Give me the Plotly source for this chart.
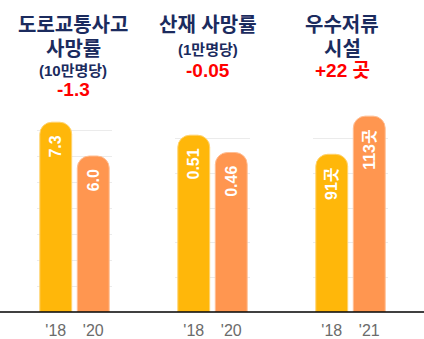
import plotly.graph_objects as go

# Three indicator panels: earlier vs. later year
years_road = ["'18", "'20"]
years_work = ["'18", "'20"]
years_tank = ["'18", "'21"]

road_deaths = [7.3, 6.0]        # per 100k people
work_deaths = [0.51, 0.46]      # per 10k people
tank_count = [91, 113]          # facilities

road_labels = [f"{v:.1f}" for v in road_deaths]
work_labels = [f"{v:.2f}" for v in work_deaths]
tank_labels = [f"{v}곳" for v in tank_count]

titles = [
    ["도로교통사고", "사망률", "(10만명당)", "-1.3"],
    ["산재 사망률", "(1만명당)", "-0.05"],
    ["우수저류", "시설", "+22 곳"],
]

W, H = 424, 339
BOTTOM = 27
PLOT_H = H - BOTTOM

YELLOW = "#FFB70A"
ORANGE = "#FF9650"
NAVY = "#1B2B5E"
RED = "#FF0000"
GRID = "#EBEBEB"
FONT = "Liberation Sans, Noto Sans CJK KR, sans-serif"

panels = [
    (years_road, road_deaths, road_labels, [0, 8], 1, (37, 112)),
    (years_work, work_deaths, work_labels, [0, 0.6], 0.1, (175, 250)),
    (years_tank, tank_count, tank_labels, [0, 120], 20, (313, 388)),
]

# trailing spaces keep the value labels clear of the rounded bar tops
PAD = "\u00a0\u00a0"

fig = go.Figure()
for i, (cats, vals, labels, yr, step, (xa, xb)) in enumerate(panels, start=1):
    sfx = "" if i == 1 else str(i)
    fig.add_trace(go.Bar(
        x=cats, y=vals, text=[t + PAD for t in labels],
        xaxis="x" + sfx, yaxis="y" + sfx,
        marker=dict(color=[YELLOW, ORANGE], cornerradius=12,
                    line=dict(color=["#FFD36E", "#FFBE93"], width=1)),
        textposition="inside", insidetextanchor="end", textangle=-90,
        textfont=dict(color="white", size=16, family=FONT, weight="bold"),
        hoverinfo="skip", showlegend=False,
    ))
    fig.update_layout(**{
        "xaxis" + sfx: dict(domain=[xa / W, xb / W], anchor="y" + sfx,
                            showline=False, ticks="", ticklabelstandoff=7,
                            tickfont=dict(size=16, color="#6B6B6B", family=FONT)),
        "yaxis" + sfx: dict(domain=[0, 208 / PLOT_H], anchor="x" + sfx,
                            range=yr, dtick=step, showticklabels=False,
                            showgrid=True, gridcolor=GRID, gridwidth=1,
                            zeroline=False, showline=False),
    })


def py(px):
    return 1 - px / PLOT_H


# Panel headings
title_pos = [
    (73, [25, 49, 70, 90], [20, 20, 15, 19]),
    (208, [25, 49, 70], [20, 15, 19]),
    (342, [25, 49, 70], [20, 20, 19]),
]
for lines, (cx, ys, sizes) in zip(titles, title_pos):
    for j, (txt, y, s) in enumerate(zip(lines, ys, sizes)):
        fig.add_annotation(
            x=cx / W, y=py(y), xref="paper", yref="paper",
            text=txt, showarrow=False, xanchor="center", yanchor="middle",
            font=dict(size=s, color=RED if j == len(lines) - 1 else NAVY,
                      family=FONT, weight="bold"),
        )

# Baseline across the full width
fig.add_shape(type="line", xref="paper", yref="paper",
              x0=0, x1=1, y0=0, y1=0, line=dict(color="black", width=1.5))

fig.update_layout(
    width=W, height=H,
    margin=dict(l=0, r=0, t=0, b=BOTTOM),
    bargap=0.15,
    plot_bgcolor="white", paper_bgcolor="white",
    font=dict(family=FONT),
)

fig.write_html("out.html")
